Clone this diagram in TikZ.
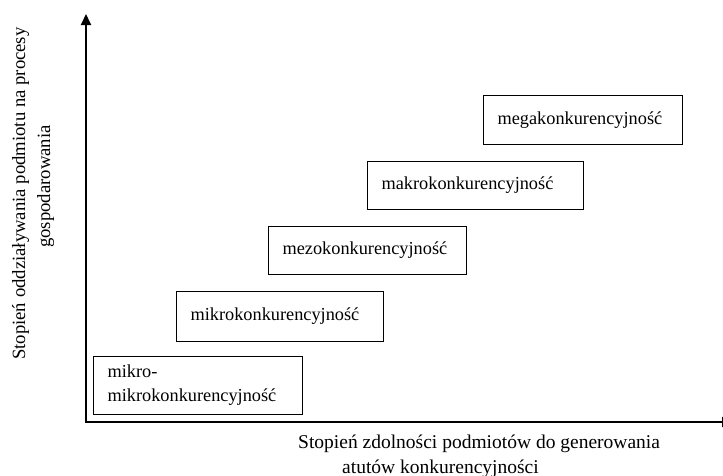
\documentclass[tikz,border=0pt]{standalone}
\usepackage{fontspec}
\setmainfont{Liberation Serif}
\usetikzlibrary{arrows.meta}
\begin{document}
\begin{tikzpicture}[x=1pt,y=-1pt,
		poziom/.style={draw,line width=1.2pt,anchor=north west,inner xsep=14pt,inner ysep=0pt,align=left,font=\fontsize{18.3}{24}\selectfont},
		opis/.style={inner sep=0pt,align=left,anchor=north west,font=\fontsize{18.7}{25}\selectfont}]
			\useasboundingbox (0,0) rectangle (723,475);
			\coordinate (O) at (86,422);
			\coordinate (Y) at (86,14);
			\coordinate (X) at (733,422);
			\draw[line width=2pt,{Triangle[width=10pt,length=11pt]}-{Triangle[width=10pt,length=11pt]}] (Y) -- (O) -- (X);
			\node[poziom,text width=181pt,minimum height=58pt] (mikromikro) at (93,356) {mikro-\\mikrokonkurencyjność};
			\node[poziom,text width=179pt,minimum height=50pt] (mikro) at (176,291) {mikrokonkurencyjność};
			\node[poziom,text width=170pt,minimum height=48pt] (mezo) at (268,226) {mezokonkurencyjność};
			\node[poziom,text width=188pt,minimum height=48pt] (makro) at (367,161) {makrokonkurencyjność};
			\node[poziom,text width=171pt,minimum height=49pt] (mega) at (483,95) {megakonkurencyjność};
			\node[opis,font=\fontsize{19.5}{24.5}\selectfont] (opisx) at (298,435) {Stopień zdolności podmiotów do generowania\\\hspace*{44pt}atutów konkurencyjności};
			\node[opis,rotate=90] (opisy) at (12,360) {Stopień oddziaływania podmiotu na procesy\\\hspace*{112pt}gospodarowania};
		\end{tikzpicture}
\end{document}
